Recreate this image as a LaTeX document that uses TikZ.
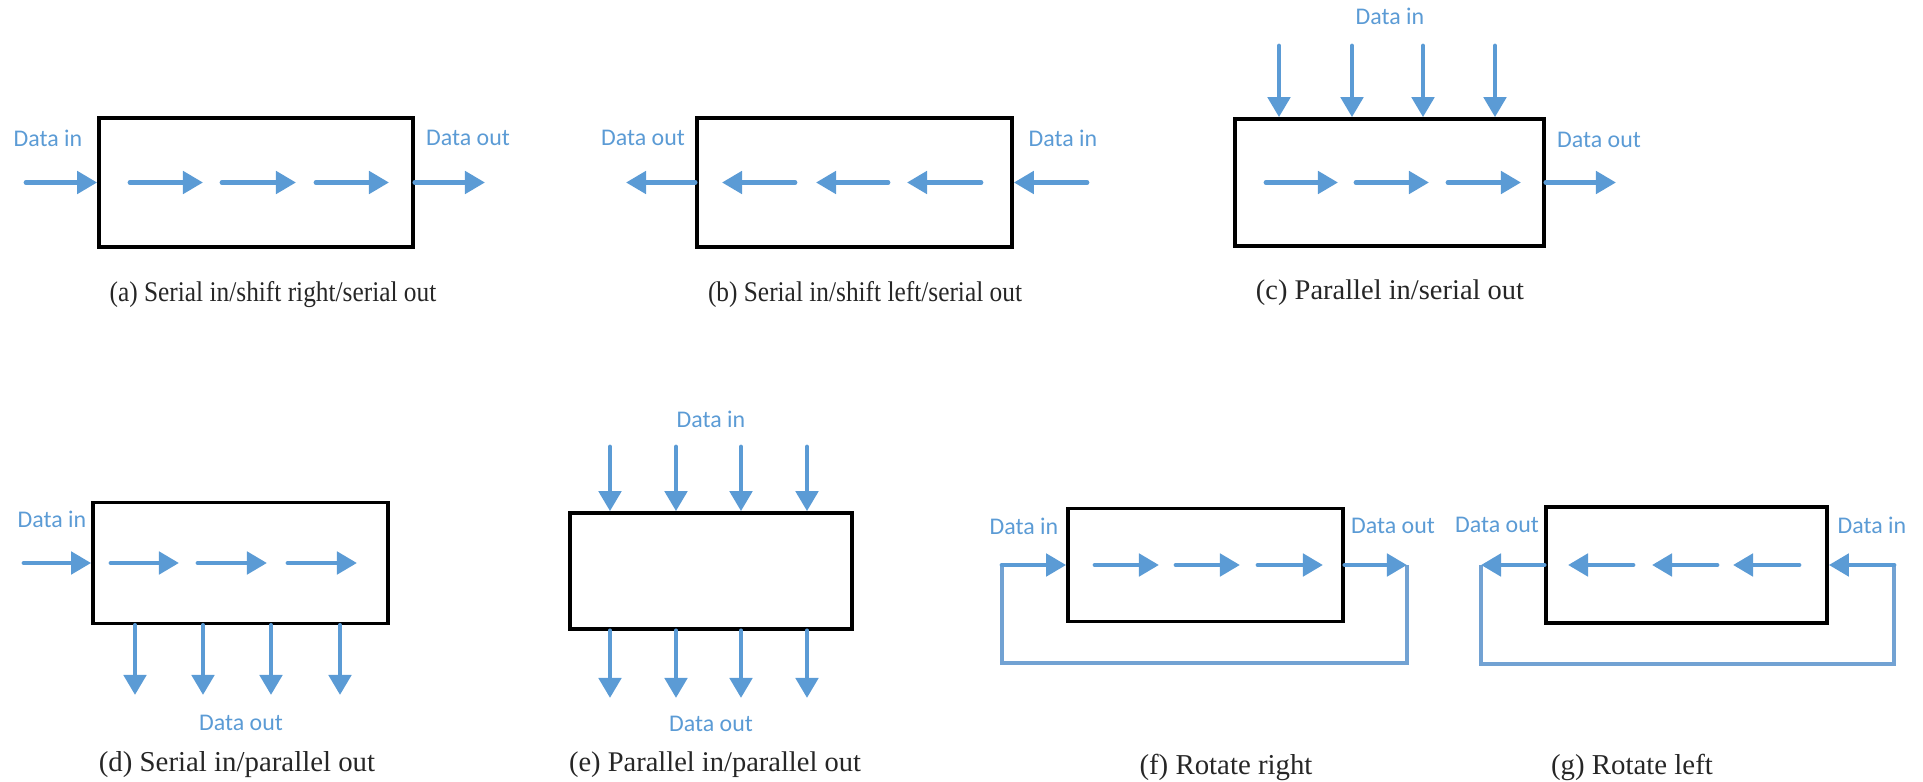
\documentclass[tikz,border=0pt]{standalone}
\usepackage{fontspec}
\usepackage{graphicx}
\usetikzlibrary{arrows.meta}
\newfontfamily\sigfont{Carlito}
\newfontfamily\capfont{Liberation Serif}
\definecolor{sig}{HTML}{5B9BD5}
\definecolor{loopline}{HTML}{72A2D3}
\tikzset{
  reg/.style={draw=black, line width=1pt, inner sep=0pt, fill=white},
  sigarrow/.style={draw=sig, line width=1.35pt, line cap=round,
    -{Triangle[length=2mm,width=2.2mm]}},
  feedback/.style={draw=loopline, line width=1.3pt},
  siglabel/.style={text=sig, font=\sigfont\fontsize{6.8}{8}\selectfont, inner sep=0pt},
  caption/.style={text=black!85, inner sep=0pt},
  capsize/.style={font=\capfont\fontsize{#1}{9}\selectfont}
}
\begin{document}
\begin{tikzpicture}[x=0.01cm, y=-0.01cm]
\useasboundingbox (0,0) rectangle (1923,782);

% ---------- (a) serial in / shift right / serial out ----------
\node[reg, minimum width=3.14cm, minimum height=1.29cm] (A) at (256,182.5) {};
\coordinate (Ain) at (26,182.5);
\coordinate (Aout) at (485,182.5);
\draw[sigarrow] (Ain) -- (A.west);
\draw[sigarrow] (A.east) -- (Aout);
\foreach \s/\e in {130/203, 222/296, 316/389}
  \draw[sigarrow] (\s,182.5) -- (\e,182.5);
\node[siglabel] (Ainl) at (48,138) {Data in};
\node[siglabel] (Aoutl) at (468,138) {Data out};
\node[caption, capsize=8.1] (Acap) at (273,295)
  {\scalebox{0.89}[1]{(a) Serial in/shift right/serial out}};

% ---------- (b) serial in / shift left / serial out ----------
\node[reg, minimum width=3.15cm, minimum height=1.29cm] (B) at (854.5,182.5) {};
\coordinate (Bin) at (1087,182.5);
\coordinate (Bout) at (626,182.5);
\draw[sigarrow] (Bin) -- (B.east);
\draw[sigarrow] (B.west) -- (Bout);
\foreach \s/\e in {795/722, 888/816, 981/907}
  \draw[sigarrow] (\s,182.5) -- (\e,182.5);
\node[siglabel] (Boutl) at (643,138) {Data out};
\node[siglabel] (Binl) at (1063,138) {Data in};
\node[caption, capsize=8.1] (Bcap) at (865,295)
  {\scalebox{0.89}[1]{(b) Serial in/shift left/serial out}};

% ---------- (c) parallel in / serial out ----------
\node[reg, minimum width=3.09cm, minimum height=1.27cm] (C) at (1389.5,182.5) {};
\foreach \x [count=\i] in {1279,1352,1423,1495} {
  \coordinate (Cin\i) at (\x,46);
  \draw[sigarrow] (Cin\i) -- (Cin\i |- C.north);
}
\coordinate (Cout) at (1616,182.5);
\draw[sigarrow] (C.east) -- (Cout);
\foreach \s/\e in {1266/1338, 1356/1429, 1448/1521}
  \draw[sigarrow] (\s,182.5) -- (\e,182.5);
\node[siglabel] (Cinl) at (1390,16) {Data in};
\node[siglabel] (Coutl) at (1599,140) {Data out};
\node[caption, capsize=8.1] (Ccap) at (1390,293) {(c) Parallel in/serial out};

% ---------- (d) serial in / parallel out ----------
\node[reg, minimum width=2.95cm, minimum height=1.21cm] (D) at (240.5,563) {};
\coordinate (Din) at (24,563);
\draw[sigarrow] (Din) -- (D.west);
\foreach \s/\e in {111/179, 198/267, 288/357}
  \draw[sigarrow] (\s,563) -- (\e,563);
\foreach \x [count=\i] in {135,203,271,340} {
  \coordinate (Dout\i) at (\x,695);
  \draw[sigarrow] (Dout\i |- D.south) -- (Dout\i);
}
\node[siglabel] (Dinl) at (52,519) {Data in};
\node[siglabel] (Doutl) at (241,723) {Data out};
\node[caption, capsize=8.2] (Dcap) at (237,765) {(d) Serial in/parallel out};

% ---------- (e) parallel in / parallel out ----------
\node[reg, minimum width=2.82cm, minimum height=1.16cm] (E) at (711,571) {};
\foreach \x [count=\i] in {610,676,741,807} {
  \coordinate (Ein\i) at (\x,447);
  \coordinate (Eout\i) at (\x,698);
  \draw[sigarrow] (Ein\i) -- (Ein\i |- E.north);
  \draw[sigarrow] (Eout\i |- E.south) -- (Eout\i);
}
\node[siglabel] (Einl) at (711,419) {Data in};
\node[siglabel] (Eoutl) at (711,724) {Data out};
\node[caption, capsize=8.1] (Ecap) at (715,765) {(e) Parallel in/parallel out};

% ---------- (f) rotate right ----------
\node[reg, minimum width=2.75cm, minimum height=1.13cm] (F) at (1205.5,565) {};
\coordinate (Fl) at (1002,565);
\coordinate (Fr) at (1407,565);
\draw[feedback] (Fr) -- (1407,663) -- (1002,663) -- (Fl);
\draw[sigarrow] (Fl) -- (F.west);
\draw[sigarrow] (F.east) -- (Fr);
\foreach \s/\e in {1095/1159, 1176/1240, 1258/1323}
  \draw[sigarrow] (\s,565) -- (\e,565);
\node[siglabel] (Finl) at (1024,526) {Data in};
\node[siglabel] (Foutl) at (1393,526) {Data out};
\node[caption, capsize=8.2] (Fcap) at (1226,767) {(f) Rotate right};

% ---------- (g) rotate left ----------
\node[reg, minimum width=2.81cm, minimum height=1.16cm] (G) at (1686.5,565) {};
\coordinate (Gl) at (1481,565);
\coordinate (Gr) at (1894,565);
\draw[feedback] (Gl) -- (1481,664) -- (1894,664) -- (Gr);
\draw[sigarrow] (Gr) -- (G.east);
\draw[sigarrow] (G.west) -- (Gl);
\foreach \s/\e in {1633/1568, 1717/1652, 1799/1733}
  \draw[sigarrow] (\s,565) -- (\e,565);
\node[siglabel] (Goutl) at (1497,525) {Data out};
\node[siglabel] (Ginl) at (1872,525) {Data in};
\node[caption, capsize=8.2] (Gcap) at (1632,767) {(g) Rotate left};
\end{tikzpicture}
\end{document}
